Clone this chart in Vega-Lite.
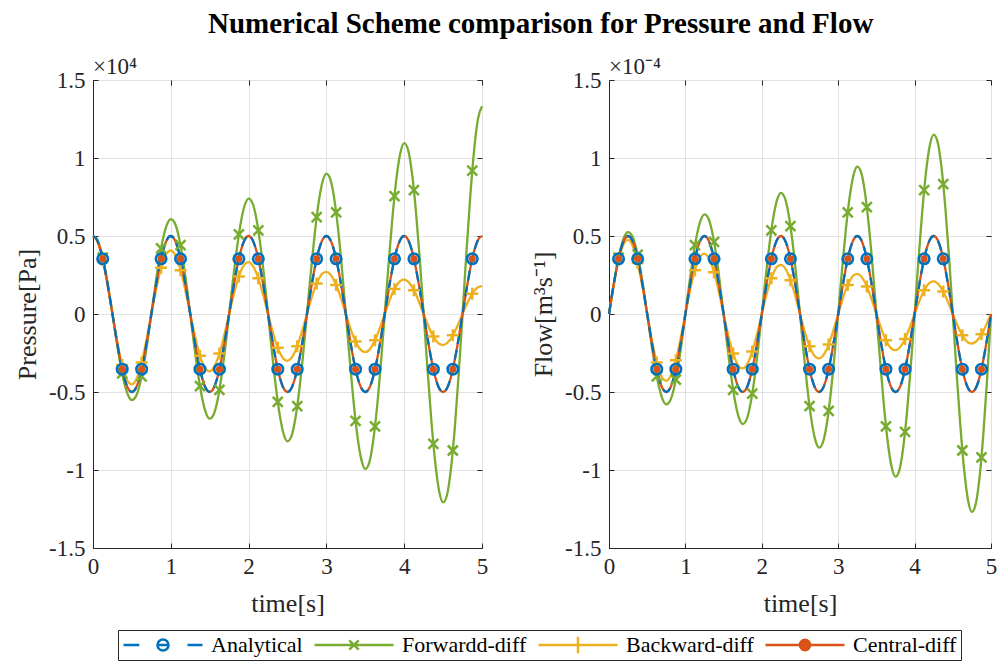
{
  "$schema": "https://vega.github.io/schema/vega-lite/v6.json",
  "background": "white",
  "padding": {"left": 14, "top": 9, "right": 1, "bottom": 1},
  "title": {"text": "Numerical Scheme comparison for Pressure and Flow", "font": "Liberation Serif", "fontSize": 29, "fontWeight": "bold", "color": "#000000", "anchor": "middle", "frame": "bounds", "dx": 35, "offset": 17},
  "bounds": "flush",
  "spacing": 127,
  "datasets": {
    "lines": [
      {"t":0,"pa":0.5,"pf":0.5,"pb":0.5,"fa":0,"ff":0,"fb":0},
      {"t":0.05,"pa":0.476,"pf":0.48,"pb":0.471,"fa":0.155,"ff":0.156,"fb":0.153},
      {"t":0.1,"pa":0.405,"pf":0.413,"pb":0.396,"fa":0.294,"ff":0.3,"fb":0.288},
      {"t":0.15,"pa":0.294,"pf":0.303,"pb":0.285,"fa":0.405,"ff":0.417,"fb":0.392},
      {"t":0.2,"pa":0.155,"pf":0.161,"pb":0.148,"fa":0.476,"ff":0.495,"fb":0.456},
      {"t":0.25,"pa":0,"pf":0,"pb":0,"fa":0.5,"ff":0.525,"fb":0.475},
      {"t":0.3,"pa":-0.155,"pf":-0.164,"pb":-0.145,"fa":0.476,"ff":0.504,"fb":0.447},
      {"t":0.35,"pa":-0.294,"pf":-0.315,"pb":-0.274,"fa":0.405,"ff":0.433,"fb":0.377},
      {"t":0.4,"pa":-0.405,"pf":-0.438,"pb":-0.373,"fa":0.294,"ff":0.318,"fb":0.271},
      {"t":0.45,"pa":-0.476,"pf":-0.519,"pb":-0.434,"fa":0.155,"ff":0.169,"fb":0.141},
      {"t":0.5,"pa":-0.5,"pf":-0.552,"pb":-0.451,"fa":0,"ff":0,"fb":0},
      {"t":0.55,"pa":-0.476,"pf":-0.53,"pb":-0.425,"fa":-0.155,"ff":-0.172,"fb":-0.138},
      {"t":0.6,"pa":-0.405,"pf":-0.455,"pb":-0.358,"fa":-0.294,"ff":-0.331,"fb":-0.26},
      {"t":0.65,"pa":-0.294,"pf":-0.334,"pb":-0.257,"fa":-0.405,"ff":-0.459,"fb":-0.354},
      {"t":0.7,"pa":-0.155,"pf":-0.177,"pb":-0.134,"fa":-0.476,"ff":-0.546,"fb":-0.412},
      {"t":0.75,"pa":0,"pf":0,"pb":0,"fa":-0.5,"ff":-0.579,"fb":-0.429},
      {"t":0.8,"pa":0.155,"pf":0.181,"pb":0.131,"fa":-0.476,"ff":-0.556,"fb":-0.404},
      {"t":0.85,"pa":0.294,"pf":0.347,"pb":0.247,"fa":-0.405,"ff":-0.478,"fb":-0.34},
      {"t":0.9,"pa":0.405,"pf":0.483,"pb":0.336,"fa":-0.294,"ff":-0.351,"fb":-0.244},
      {"t":0.95,"pa":0.476,"pf":0.573,"pb":0.391,"fa":-0.155,"ff":-0.186,"fb":-0.127},
      {"t":1,"pa":0.5,"pf":0.608,"pb":0.407,"fa":0,"ff":0,"fb":0},
      {"t":1.05,"pa":0.476,"pf":0.584,"pb":0.384,"fa":0.155,"ff":0.19,"fb":0.125},
      {"t":1.1,"pa":0.405,"pf":0.502,"pb":0.323,"fa":0.294,"ff":0.365,"fb":0.235},
      {"t":1.15,"pa":0.294,"pf":0.368,"pb":0.232,"fa":0.405,"ff":0.507,"fb":0.32},
      {"t":1.2,"pa":0.155,"pf":0.196,"pb":0.121,"fa":0.476,"ff":0.602,"fb":0.372},
      {"t":1.25,"pa":0,"pf":0,"pb":0,"fa":0.5,"ff":0.639,"fb":0.387},
      {"t":1.3,"pa":-0.155,"pf":-0.199,"pb":-0.118,"fa":0.476,"ff":0.614,"fb":0.364},
      {"t":1.35,"pa":-0.294,"pf":-0.383,"pb":-0.223,"fa":0.405,"ff":0.527,"fb":0.307},
      {"t":1.4,"pa":-0.405,"pf":-0.532,"pb":-0.304,"fa":0.294,"ff":0.387,"fb":0.221},
      {"t":1.45,"pa":-0.476,"pf":-0.632,"pb":-0.353,"fa":0.155,"ff":0.205,"fb":0.115},
      {"t":1.5,"pa":-0.5,"pf":-0.671,"pb":-0.368,"fa":0,"ff":0,"fb":0},
      {"t":1.55,"pa":-0.476,"pf":-0.644,"pb":-0.346,"fa":-0.155,"ff":-0.209,"fb":-0.112},
      {"t":1.6,"pa":-0.405,"pf":-0.554,"pb":-0.291,"fa":-0.294,"ff":-0.402,"fb":-0.212},
      {"t":1.65,"pa":-0.294,"pf":-0.406,"pb":-0.21,"fa":-0.405,"ff":-0.559,"fb":-0.288},
      {"t":1.7,"pa":-0.155,"pf":-0.216,"pb":-0.109,"fa":-0.476,"ff":-0.664,"fb":-0.336},
      {"t":1.75,"pa":0,"pf":0,"pb":0,"fa":-0.5,"ff":-0.705,"fb":-0.349},
      {"t":1.8,"pa":0.155,"pf":0.22,"pb":0.107,"fa":-0.476,"ff":-0.677,"fb":-0.329},
      {"t":1.85,"pa":0.294,"pf":0.422,"pb":0.201,"fa":-0.405,"ff":-0.581,"fb":-0.277},
      {"t":1.9,"pa":0.405,"pf":0.587,"pb":0.274,"fa":-0.294,"ff":-0.427,"fb":-0.199},
      {"t":1.95,"pa":0.476,"pf":0.697,"pb":0.319,"fa":-0.155,"ff":-0.226,"fb":-0.104},
      {"t":2,"pa":0.5,"pf":0.74,"pb":0.332,"fa":0,"ff":0,"fb":0},
      {"t":2.05,"pa":0.476,"pf":0.711,"pb":0.312,"fa":0.155,"ff":0.231,"fb":0.102},
      {"t":2.1,"pa":0.405,"pf":0.611,"pb":0.263,"fa":0.294,"ff":0.444,"fb":0.191},
      {"t":2.15,"pa":0.294,"pf":0.448,"pb":0.189,"fa":0.405,"ff":0.617,"fb":0.26},
      {"t":2.2,"pa":0.155,"pf":0.238,"pb":0.098,"fa":0.476,"ff":0.732,"fb":0.303},
      {"t":2.25,"pa":0,"pf":0,"pb":0,"fa":0.5,"ff":0.777,"fb":0.315},
      {"t":2.3,"pa":-0.155,"pf":-0.243,"pb":-0.096,"fa":0.476,"ff":0.746,"fb":0.297},
      {"t":2.35,"pa":-0.294,"pf":-0.466,"pb":-0.182,"fa":0.405,"ff":0.641,"fb":0.25},
      {"t":2.4,"pa":-0.405,"pf":-0.647,"pb":-0.247,"fa":0.294,"ff":0.47,"fb":0.18},
      {"t":2.45,"pa":-0.476,"pf":-0.769,"pb":-0.288,"fa":0.155,"ff":0.25,"fb":0.094},
      {"t":2.5,"pa":-0.5,"pf":-0.816,"pb":-0.3,"fa":0,"ff":0,"fb":0},
      {"t":2.55,"pa":-0.476,"pf":-0.784,"pb":-0.282,"fa":-0.155,"ff":-0.255,"fb":-0.092},
      {"t":2.6,"pa":-0.405,"pf":-0.673,"pb":-0.237,"fa":-0.294,"ff":-0.489,"fb":-0.173},
      {"t":2.65,"pa":-0.294,"pf":-0.494,"pb":-0.171,"fa":-0.405,"ff":-0.68,"fb":-0.235},
      {"t":2.7,"pa":-0.155,"pf":-0.262,"pb":-0.089,"fa":-0.476,"ff":-0.807,"fb":-0.273},
      {"t":2.75,"pa":0,"pf":0,"pb":0,"fa":-0.5,"ff":-0.857,"fb":-0.285},
      {"t":2.8,"pa":0.155,"pf":0.268,"pb":0.087,"fa":-0.476,"ff":-0.823,"fb":-0.268},
      {"t":2.85,"pa":0.294,"pf":0.514,"pb":0.164,"fa":-0.405,"ff":-0.707,"fb":-0.226},
      {"t":2.9,"pa":0.405,"pf":0.714,"pb":0.223,"fa":-0.294,"ff":-0.519,"fb":-0.162},
      {"t":2.95,"pa":0.476,"pf":0.848,"pb":0.26,"fa":-0.155,"ff":-0.275,"fb":-0.084},
      {"t":3,"pa":0.5,"pf":0.9,"pb":0.27,"fa":0,"ff":0,"fb":0},
      {"t":3.05,"pa":0.476,"pf":0.865,"pb":0.255,"fa":0.155,"ff":0.281,"fb":0.083},
      {"t":3.1,"pa":0.405,"pf":0.743,"pb":0.214,"fa":0.294,"ff":0.54,"fb":0.156},
      {"t":3.15,"pa":0.294,"pf":0.545,"pb":0.154,"fa":0.405,"ff":0.75,"fb":0.212},
      {"t":3.2,"pa":0.155,"pf":0.289,"pb":0.08,"fa":0.476,"ff":0.89,"fb":0.247},
      {"t":3.25,"pa":0,"pf":0,"pb":0,"fa":0.5,"ff":0.945,"fb":0.257},
      {"t":3.3,"pa":-0.155,"pf":-0.295,"pb":-0.079,"fa":0.476,"ff":0.908,"fb":0.242},
      {"t":3.35,"pa":-0.294,"pf":-0.567,"pb":-0.148,"fa":0.405,"ff":0.78,"fb":0.204},
      {"t":3.4,"pa":-0.405,"pf":-0.788,"pb":-0.201,"fa":0.294,"ff":0.572,"fb":0.146},
      {"t":3.45,"pa":-0.476,"pf":-0.935,"pb":-0.234,"fa":0.155,"ff":0.304,"fb":0.076},
      {"t":3.5,"pa":-0.5,"pf":-0.993,"pb":-0.244,"fa":0,"ff":0,"fb":0},
      {"t":3.55,"pa":-0.476,"pf":-0.954,"pb":-0.23,"fa":-0.155,"ff":-0.31,"fb":-0.075},
      {"t":3.6,"pa":-0.405,"pf":-0.819,"pb":-0.193,"fa":-0.294,"ff":-0.595,"fb":-0.141},
      {"t":3.65,"pa":-0.294,"pf":-0.601,"pb":-0.139,"fa":-0.405,"ff":-0.827,"fb":-0.191},
      {"t":3.7,"pa":-0.155,"pf":-0.319,"pb":-0.072,"fa":-0.476,"ff":-0.982,"fb":-0.223},
      {"t":3.75,"pa":0,"pf":0,"pb":0,"fa":-0.5,"ff":-1.043,"fb":-0.232},
      {"t":3.8,"pa":0.155,"pf":0.325,"pb":0.071,"fa":-0.476,"ff":-1.002,"fb":-0.218},
      {"t":3.85,"pa":0.294,"pf":0.625,"pb":0.134,"fa":-0.405,"ff":-0.86,"fb":-0.184},
      {"t":3.9,"pa":0.405,"pf":0.869,"pb":0.182,"fa":-0.294,"ff":-0.631,"fb":-0.132},
      {"t":3.95,"pa":0.476,"pf":1.031,"pb":0.212,"fa":-0.155,"ff":-0.335,"fb":-0.069},
      {"t":4,"pa":0.5,"pf":1.095,"pb":0.22,"fa":0,"ff":0,"fb":0},
      {"t":4.05,"pa":0.476,"pf":1.052,"pb":0.207,"fa":0.155,"ff":0.342,"fb":0.067},
      {"t":4.1,"pa":0.405,"pf":0.903,"pb":0.175,"fa":0.294,"ff":0.656,"fb":0.127},
      {"t":4.15,"pa":0.294,"pf":0.663,"pb":0.126,"fa":0.405,"ff":0.912,"fb":0.173},
      {"t":4.2,"pa":0.155,"pf":0.352,"pb":0.065,"fa":0.476,"ff":1.083,"fb":0.201},
      {"t":4.25,"pa":0,"pf":0,"pb":0,"fa":0.5,"ff":1.15,"fb":0.209},
      {"t":4.3,"pa":-0.155,"pf":-0.359,"pb":-0.064,"fa":0.476,"ff":1.105,"fb":0.197},
      {"t":4.35,"pa":-0.294,"pf":-0.689,"pb":-0.121,"fa":0.405,"ff":0.949,"fb":0.166},
      {"t":4.4,"pa":-0.405,"pf":-0.958,"pb":-0.164,"fa":0.294,"ff":0.696,"fb":0.119},
      {"t":4.45,"pa":-0.476,"pf":-1.138,"pb":-0.191,"fa":0.155,"ff":0.37,"fb":0.062},
      {"t":4.5,"pa":-0.5,"pf":-1.208,"pb":-0.199,"fa":0,"ff":0,"fb":0},
      {"t":4.55,"pa":-0.476,"pf":-1.16,"pb":-0.187,"fa":-0.155,"ff":-0.377,"fb":-0.061},
      {"t":4.6,"pa":-0.405,"pf":-0.996,"pb":-0.158,"fa":-0.294,"ff":-0.724,"fb":-0.114},
      {"t":4.65,"pa":-0.294,"pf":-0.731,"pb":-0.113,"fa":-0.405,"ff":-1.006,"fb":-0.156},
      {"t":4.7,"pa":-0.155,"pf":-0.388,"pb":-0.059,"fa":-0.476,"ff":-1.195,"fb":-0.182},
      {"t":4.75,"pa":0,"pf":0,"pb":0,"fa":-0.5,"ff":-1.269,"fb":-0.189},
      {"t":4.8,"pa":0.155,"pf":0.396,"pb":0.058,"fa":-0.476,"ff":-1.218,"fb":-0.178},
      {"t":4.85,"pa":0.294,"pf":0.76,"pb":0.109,"fa":-0.405,"ff":-1.047,"fb":-0.15},
      {"t":4.9,"pa":0.405,"pf":1.057,"pb":0.148,"fa":-0.294,"ff":-0.768,"fb":-0.108},
      {"t":4.95,"pa":0.476,"pf":1.255,"pb":0.172,"fa":-0.155,"ff":-0.408,"fb":-0.056},
      {"t":5,"pa":0.5,"pf":1.332,"pb":0.179,"fa":0,"ff":0,"fb":0}
    ],
    "marks": [
      {"t":0.125,"pa":0.354,"pf":0.362,"pb":0.345,"fa":0.354,"ff":0.362,"fb":0.345},
      {"t":0.375,"pa":-0.354,"pf":-0.381,"pb":-0.327,"fa":0.354,"ff":0.381,"fb":0.327},
      {"t":0.625,"pa":-0.354,"pf":-0.4,"pb":-0.311,"fa":-0.354,"ff":-0.4,"fb":-0.311},
      {"t":0.875,"pa":0.354,"pf":0.42,"pb":0.296,"fa":-0.354,"ff":-0.42,"fb":-0.296},
      {"t":1.125,"pa":0.354,"pf":0.441,"pb":0.281,"fa":0.354,"ff":0.441,"fb":0.281},
      {"t":1.375,"pa":-0.354,"pf":-0.463,"pb":-0.267,"fa":0.354,"ff":0.463,"fb":0.267},
      {"t":1.625,"pa":-0.354,"pf":-0.486,"pb":-0.253,"fa":-0.354,"ff":-0.486,"fb":-0.253},
      {"t":1.875,"pa":0.354,"pf":0.511,"pb":0.241,"fa":-0.354,"ff":-0.511,"fb":-0.241},
      {"t":2.125,"pa":0.354,"pf":0.536,"pb":0.229,"fa":0.354,"ff":0.536,"fb":0.229},
      {"t":2.375,"pa":-0.354,"pf":-0.563,"pb":-0.217,"fa":0.354,"ff":0.563,"fb":0.217},
      {"t":2.625,"pa":-0.354,"pf":-0.591,"pb":-0.206,"fa":-0.354,"ff":-0.591,"fb":-0.206},
      {"t":2.875,"pa":0.354,"pf":0.621,"pb":0.196,"fa":-0.354,"ff":-0.621,"fb":-0.196},
      {"t":3.125,"pa":0.354,"pf":0.652,"pb":0.186,"fa":0.354,"ff":0.652,"fb":0.186},
      {"t":3.375,"pa":-0.354,"pf":-0.685,"pb":-0.177,"fa":0.354,"ff":0.685,"fb":0.177},
      {"t":3.625,"pa":-0.354,"pf":-0.72,"pb":-0.168,"fa":-0.354,"ff":-0.72,"fb":-0.168},
      {"t":3.875,"pa":0.354,"pf":0.756,"pb":0.16,"fa":-0.354,"ff":-0.756,"fb":-0.16},
      {"t":4.125,"pa":0.354,"pf":0.794,"pb":0.152,"fa":0.354,"ff":0.794,"fb":0.152},
      {"t":4.375,"pa":-0.354,"pf":-0.833,"pb":-0.144,"fa":0.354,"ff":0.833,"fb":0.144},
      {"t":4.625,"pa":-0.354,"pf":-0.875,"pb":-0.137,"fa":-0.354,"ff":-0.875,"fb":-0.137},
      {"t":4.875,"pa":0.354,"pf":0.919,"pb":0.13,"fa":-0.354,"ff":-0.919,"fb":-0.13}
    ]
  },
  "hconcat": [
    {
      "width": 389,
      "height": 468,
      "title": {"text": "×10⁴", "anchor": "start", "frame": "group", "font": "Liberation Serif", "fontSize": 23, "fontWeight": "normal", "color": "#262626", "offset": -10},
      "resolve": {"axis": {"x": "independent", "y": "independent"}},
      "layer": [
        {"data": {"name": "lines"}, "mark": {"type": "line", "color": "#77AC30", "strokeWidth": 2.3, "interpolate": "monotone"},
         "encoding": {
           "x": {"field": "t", "type": "quantitative", "scale": {"domain": [0, 5], "nice": false}, "axis": {"orient": "bottom", "title": "time[s]", "values": [0, 1, 2, 3, 4, 5], "grid": true, "labelPadding": 12, "titlePadding": 12}},
           "y": {"field": "pf", "type": "quantitative", "scale": {"domain": [-1.5, 1.5], "nice": false}, "axis": {"orient": "left", "title": "Pressure[Pa]", "values": [-1.5, -1, -0.5, 0, 0.5, 1, 1.5], "format": "~g", "grid": true}}}},
        {"data": {"name": "lines"}, "mark": {"type": "line", "color": "#EDB120", "strokeWidth": 2.3, "interpolate": "monotone"},
         "encoding": {
           "x": {"field": "t", "type": "quantitative", "scale": {"domain": [0, 5], "nice": false}, "axis": {"orient": "top", "values": [0, 1, 2, 3, 4, 5], "labels": false, "title": null, "grid": false, "domain": false}},
           "y": {"field": "pb", "type": "quantitative", "scale": {"domain": [-1.5, 1.5], "nice": false}, "axis": {"orient": "right", "values": [-1.5, -1, -0.5, 0, 0.5, 1, 1.5], "labels": false, "title": null, "grid": false, "domain": false}}}},
        {"data": {"name": "lines"}, "mark": {"type": "line", "color": "#D95319", "strokeWidth": 2.3, "interpolate": "monotone"},
         "encoding": {
           "x": {"field": "t", "type": "quantitative", "scale": {"domain": [0, 5], "nice": false}, "axis": null},
           "y": {"field": "pa", "type": "quantitative", "scale": {"domain": [-1.5, 1.5], "nice": false}, "axis": null}}},
        {"data": {"name": "lines"}, "mark": {"type": "line", "color": "#0072BD", "strokeWidth": 2.3, "strokeDash": [10, 6], "interpolate": "monotone"},
         "encoding": {
           "x": {"field": "t", "type": "quantitative", "scale": {"domain": [0, 5], "nice": false}, "axis": null},
           "y": {"field": "pa", "type": "quantitative", "scale": {"domain": [-1.5, 1.5], "nice": false}, "axis": null}}},
        {"data": {"name": "marks"}, "mark": {"type": "point", "shape": "M-1,-1L1,1M1,-1L-1,1", "size": 100, "filled": false, "color": "#77AC30", "strokeWidth": 2.5, "opacity": 1},
         "encoding": {
           "x": {"field": "t", "type": "quantitative", "scale": {"domain": [0, 5], "nice": false}, "axis": null},
           "y": {"field": "pf", "type": "quantitative", "scale": {"domain": [-1.5, 1.5], "nice": false}, "axis": null}}},
        {"data": {"name": "marks"}, "mark": {"type": "point", "shape": "M-1,0H1M0,-1V1", "size": 144, "filled": false, "color": "#EDB120", "strokeWidth": 2.5, "opacity": 1},
         "encoding": {
           "x": {"field": "t", "type": "quantitative", "scale": {"domain": [0, 5], "nice": false}, "axis": null},
           "y": {"field": "pb", "type": "quantitative", "scale": {"domain": [-1.5, 1.5], "nice": false}, "axis": null}}},
        {"data": {"name": "marks"}, "mark": {"type": "point", "shape": "circle", "size": 50, "filled": true, "color": "#D95319", "opacity": 1},
         "encoding": {
           "x": {"field": "t", "type": "quantitative", "scale": {"domain": [0, 5], "nice": false}, "axis": null},
           "y": {"field": "pa", "type": "quantitative", "scale": {"domain": [-1.5, 1.5], "nice": false}, "axis": null}}},
        {"data": {"name": "marks"}, "mark": {"type": "point", "shape": "circle", "size": 110, "filled": false, "color": "#0072BD", "strokeWidth": 2.6, "opacity": 1},
         "encoding": {
           "x": {"field": "t", "type": "quantitative", "scale": {"domain": [0, 5], "nice": false}, "axis": null},
           "y": {"field": "pa", "type": "quantitative", "scale": {"domain": [-1.5, 1.5], "nice": false}, "axis": null}}},
        {"data": {"name": "marks"}, "transform": [{"filter": "false"}],
         "mark": {"type": "point", "filled": false, "strokeWidth": 2.5, "opacity": 1},
         "encoding": {
           "shape": {"field": "series", "type": "nominal",
             "scale": {"domain": ["Analytical", "Forwardd-diff", "Backward-diff", "Central-diff"],
                       "range": ["M-1,0H-0.6M-0.14,0H0.14M0.14,0A0.14,0.14,0,1,1,-0.14,0A0.14,0.14,0,1,1,0.14,0M0.62,0H1",
                                 "M-1,0H1M-0.12,-0.12L0.12,0.12M0.12,-0.12L-0.12,0.12",
                                 "M-1,0H1M0,-0.21V0.21",
                                 "M-1,0H1M0.13,0A0.13,0.13,0,1,1,-0.13,0A0.13,0.13,0,1,1,0.13,0M0.07,0A0.07,0.07,0,1,1,-0.07,0A0.07,0.07,0,1,1,0.07,0"]},
             "legend": {"title": null, "orient": "none", "legendX": 25, "legendY": 550, "direction": "horizontal", "columns": 4, "symbolSize": 6241, "clipHeight": 22, "symbolStrokeWidth": 2.5, "labelFont": "Liberation Serif", "labelFontSize": 22, "labelColor": "#000000", "labelOffset": 7, "columnPadding": 10, "padding": 4, "strokeColor": "#262626", "fillColor": "#ffffff", "labelLimit": 300}},
           "stroke": {"field": "series", "type": "nominal",
             "scale": {"domain": ["Analytical", "Forwardd-diff", "Backward-diff", "Central-diff"], "range": ["#0072BD", "#77AC30", "#EDB120", "#D95319"]},
             "legend": {"title": null, "orient": "none", "legendX": 25, "legendY": 550, "direction": "horizontal", "columns": 4, "symbolSize": 6241, "clipHeight": 22, "symbolStrokeWidth": 2.5, "labelFont": "Liberation Serif", "labelFontSize": 22, "labelColor": "#000000", "labelOffset": 7, "columnPadding": 10, "padding": 4, "strokeColor": "#262626", "fillColor": "#ffffff", "labelLimit": 300}}
         }}
      ]
    },
    {
      "width": 382,
      "height": 468,
      "title": {"text": "×10⁻⁴", "anchor": "start", "frame": "group", "font": "Liberation Serif", "fontSize": 23, "fontWeight": "normal", "color": "#262626", "offset": -10},
      "resolve": {"axis": {"x": "independent", "y": "independent"}},
      "layer": [
        {"data": {"name": "lines"}, "mark": {"type": "line", "color": "#77AC30", "strokeWidth": 2.3, "interpolate": "monotone"},
         "encoding": {
           "x": {"field": "t", "type": "quantitative", "scale": {"domain": [0, 5], "nice": false}, "axis": {"orient": "bottom", "title": "time[s]", "values": [0, 1, 2, 3, 4, 5], "grid": true, "labelPadding": 12, "titlePadding": 12}},
           "y": {"field": "ff", "type": "quantitative", "scale": {"domain": [-1.5, 1.5], "nice": false}, "axis": {"orient": "left", "title": "Flow[m³s⁻¹]", "values": [-1.5, -1, -0.5, 0, 0.5, 1, 1.5], "format": "~g", "grid": true}}}},
        {"data": {"name": "lines"}, "mark": {"type": "line", "color": "#EDB120", "strokeWidth": 2.3, "interpolate": "monotone"},
         "encoding": {
           "x": {"field": "t", "type": "quantitative", "scale": {"domain": [0, 5], "nice": false}, "axis": {"orient": "top", "values": [0, 1, 2, 3, 4, 5], "labels": false, "title": null, "grid": false, "domain": false}},
           "y": {"field": "fb", "type": "quantitative", "scale": {"domain": [-1.5, 1.5], "nice": false}, "axis": {"orient": "right", "values": [-1.5, -1, -0.5, 0, 0.5, 1, 1.5], "labels": false, "title": null, "grid": false, "domain": false}}}},
        {"data": {"name": "lines"}, "mark": {"type": "line", "color": "#D95319", "strokeWidth": 2.3, "interpolate": "monotone"},
         "encoding": {
           "x": {"field": "t", "type": "quantitative", "scale": {"domain": [0, 5], "nice": false}, "axis": null},
           "y": {"field": "fa", "type": "quantitative", "scale": {"domain": [-1.5, 1.5], "nice": false}, "axis": null}}},
        {"data": {"name": "lines"}, "mark": {"type": "line", "color": "#0072BD", "strokeWidth": 2.3, "strokeDash": [10, 6], "interpolate": "monotone"},
         "encoding": {
           "x": {"field": "t", "type": "quantitative", "scale": {"domain": [0, 5], "nice": false}, "axis": null},
           "y": {"field": "fa", "type": "quantitative", "scale": {"domain": [-1.5, 1.5], "nice": false}, "axis": null}}},
        {"data": {"name": "marks"}, "mark": {"type": "point", "shape": "M-1,-1L1,1M1,-1L-1,1", "size": 100, "filled": false, "color": "#77AC30", "strokeWidth": 2.5, "opacity": 1},
         "encoding": {
           "x": {"field": "t", "type": "quantitative", "scale": {"domain": [0, 5], "nice": false}, "axis": null},
           "y": {"field": "ff", "type": "quantitative", "scale": {"domain": [-1.5, 1.5], "nice": false}, "axis": null}}},
        {"data": {"name": "marks"}, "mark": {"type": "point", "shape": "M-1,0H1M0,-1V1", "size": 144, "filled": false, "color": "#EDB120", "strokeWidth": 2.5, "opacity": 1},
         "encoding": {
           "x": {"field": "t", "type": "quantitative", "scale": {"domain": [0, 5], "nice": false}, "axis": null},
           "y": {"field": "fb", "type": "quantitative", "scale": {"domain": [-1.5, 1.5], "nice": false}, "axis": null}}},
        {"data": {"name": "marks"}, "mark": {"type": "point", "shape": "circle", "size": 50, "filled": true, "color": "#D95319", "opacity": 1},
         "encoding": {
           "x": {"field": "t", "type": "quantitative", "scale": {"domain": [0, 5], "nice": false}, "axis": null},
           "y": {"field": "fa", "type": "quantitative", "scale": {"domain": [-1.5, 1.5], "nice": false}, "axis": null}}},
        {"data": {"name": "marks"}, "mark": {"type": "point", "shape": "circle", "size": 110, "filled": false, "color": "#0072BD", "strokeWidth": 2.6, "opacity": 1},
         "encoding": {
           "x": {"field": "t", "type": "quantitative", "scale": {"domain": [0, 5], "nice": false}, "axis": null},
           "y": {"field": "fa", "type": "quantitative", "scale": {"domain": [-1.5, 1.5], "nice": false}, "axis": null}}}
      ]
    }
  ],
  "config": {
    "view": {"stroke": "#262626", "strokeWidth": 1},
    "axis": {
      "labelFont": "Liberation Serif", "labelFontSize": 23, "labelColor": "#262626",
      "titleFont": "Liberation Serif", "titleFontSize": 26, "titleFontWeight": "normal", "titleColor": "#262626",
      "domainColor": "#262626", "domainWidth": 1, "tickColor": "#262626", "tickSize": -5, "tickWidth": 1,
      "gridColor": "#e1e1e1", "gridWidth": 1, "labelFlush": false, "labelOverlap": false,
      "labelPadding": 13, "titlePadding": 8,
      "labelExpr": "replace(datum.label, '−', '-')"
    }
  }
}
